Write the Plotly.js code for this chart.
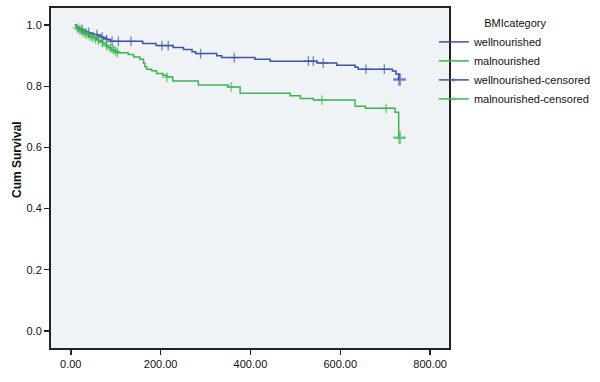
<!DOCTYPE html>
<html>
<head>
<meta charset="utf-8">
<script src="https://cdn.plot.ly/plotly-3.0.1.min.js"></script>
<style>html,body{margin:0;padding:0;background:#fff;}#chart{width:600px;height:382px;}</style>
</head>
<body>
<div id="chart"></div>
<script>
// Kaplan-Meier step data (time in days, cumulative survival)
var wellTime = [9, 12, 16, 20, 26, 32, 38, 45, 52, 60, 66, 73, 80, 88, 160, 190, 228, 251, 270, 278, 325, 336, 410, 444, 548, 592, 633, 640, 716, 724, 730, 732];
var wellSurv = [1.0, 0.995, 0.991, 0.986, 0.982, 0.978, 0.975, 0.972, 0.969, 0.965, 0.961, 0.957, 0.953, 0.947, 0.940, 0.933, 0.927, 0.920, 0.913, 0.907, 0.900, 0.894, 0.888, 0.882, 0.876, 0.869, 0.862, 0.856, 0.850, 0.840, 0.822, 0.822];
var wellCensTime = [25, 40, 58, 70, 80, 92, 106, 134, 203, 217, 289, 364, 529, 540, 562, 657, 698, 732];

var malTime = [9, 12, 15, 18, 23, 28, 33, 40, 47, 54, 60, 66, 72, 78, 84, 91, 97, 102, 128, 140, 154, 162, 165, 169, 180, 191, 205, 214, 227, 284, 350, 377, 488, 511, 540, 633, 656, 722, 730, 732];
var malSurv = [1.0, 0.995, 0.990, 0.985, 0.980, 0.975, 0.970, 0.965, 0.960, 0.955, 0.950, 0.944, 0.938, 0.932, 0.926, 0.919, 0.914, 0.910, 0.904, 0.896, 0.888, 0.875, 0.864, 0.856, 0.851, 0.842, 0.836, 0.830, 0.817, 0.804, 0.798, 0.777, 0.769, 0.760, 0.755, 0.735, 0.728, 0.715, 0.632, 0.632];
var malCensTime = [15, 20, 25, 30, 35, 42, 48, 55, 62, 70, 80, 88, 95, 100, 104, 214, 357, 559, 702, 732];

var xTicks = [0, 200, 400, 600, 800];
var yTicks = [0, 0.2, 0.4, 0.6, 0.8, 1.0];

var blue = '#3d52a8';
var green = '#3cb550';

function survAt(times, surv, t) {
  var v = surv[0];
  for (var i = 0; i < times.length; i++) { if (times[i] <= t) v = surv[i]; }
  return v;
}
function censorTrace(name, cTimes, times, surv, color) {
  var x = [], y = [], sz = [], lw = [];
  cTimes.forEach(function (t, i) {
    var last = (i === cTimes.length - 1);
    x.push(t); y.push(survAt(times, surv, t));
    sz.push(last ? 9 : 7); lw.push(last ? 2.5 : 1.3);
    x.push(null); y.push(null); sz.push(0); lw.push(0);
  });
  return {
    type: 'scatter', mode: 'lines+markers', name: name, x: x, y: y,
    connectgaps: false,
    line: {color: color, width: 1.5},
    marker: {symbol: 'cross-thin', size: sz, color: color, line: {color: color, width: lw}},
    hoverinfo: 'skip'
  };
}

var traces = [
  {type: 'scatter', mode: 'lines', name: 'wellnourished', x: wellTime, y: wellSurv,
   line: {color: blue, width: 1.5, shape: 'hv'}},
  {type: 'scatter', mode: 'lines', name: 'malnourished', x: malTime, y: malSurv,
   line: {color: green, width: 1.5, shape: 'hv'}},
  censorTrace('wellnourished-censored', wellCensTime, wellTime, wellSurv, blue),
  censorTrace('malnourished-censored', malCensTime, malTime, malSurv, green)
];

var font = {family: 'Liberation Sans, Arial, sans-serif', size: 11, color: '#111'};
var layout = {
  width: 600, height: 382,
  margin: {l: 51, r: 151, t: 8, b: 34, pad: 0, autoexpand: false},
  paper_bgcolor: '#ffffff',
  plot_bgcolor: '#f0f3f5',
  font: font,
  showlegend: true,
  legend: {
    x: 0.962, xanchor: 'left', y: 0.985, yanchor: 'top',
    bgcolor: 'rgba(0,0,0,0)', borderwidth: 0,
    font: {family: font.family, size: 11, color: '#111'},
    title: {text: 'BMIcategory', side: 'top center', font: {family: font.family, size: 11, color: '#111'}},
    tracegroupgap: 0
  },
  xaxis: {
    range: [-44, 842], tickvals: xTicks, tickformat: '.2f',
    ticks: 'outside', ticklen: 5, tickwidth: 1.5, tickcolor: '#222',
    showline: true, mirror: true, linecolor: '#222', linewidth: 2,
    showgrid: false, zeroline: false, tickfont: font
  },
  yaxis: {
    range: [-0.056, 1.056], tickvals: yTicks, tickformat: '.1f',
    ticks: 'outside', ticklen: 5, tickwidth: 1.5, tickcolor: '#222',
    showline: true, mirror: true, linecolor: '#222', linewidth: 2,
    showgrid: false, zeroline: false, tickfont: font
  },
  annotations: [{
    text: '<b>Cum Survival</b>', textangle: -90, showarrow: false,
    xref: 'paper', yref: 'paper', x: -34 / 398, xanchor: 'center',
    y: 1 - (160 - 8) / 340, yanchor: 'middle',
    font: {family: font.family, size: 12, color: '#111'}
  }]
};

Plotly.newPlot('chart', traces, layout, {displayModeBar: false, staticPlot: true});
</script>
</body>
</html>
